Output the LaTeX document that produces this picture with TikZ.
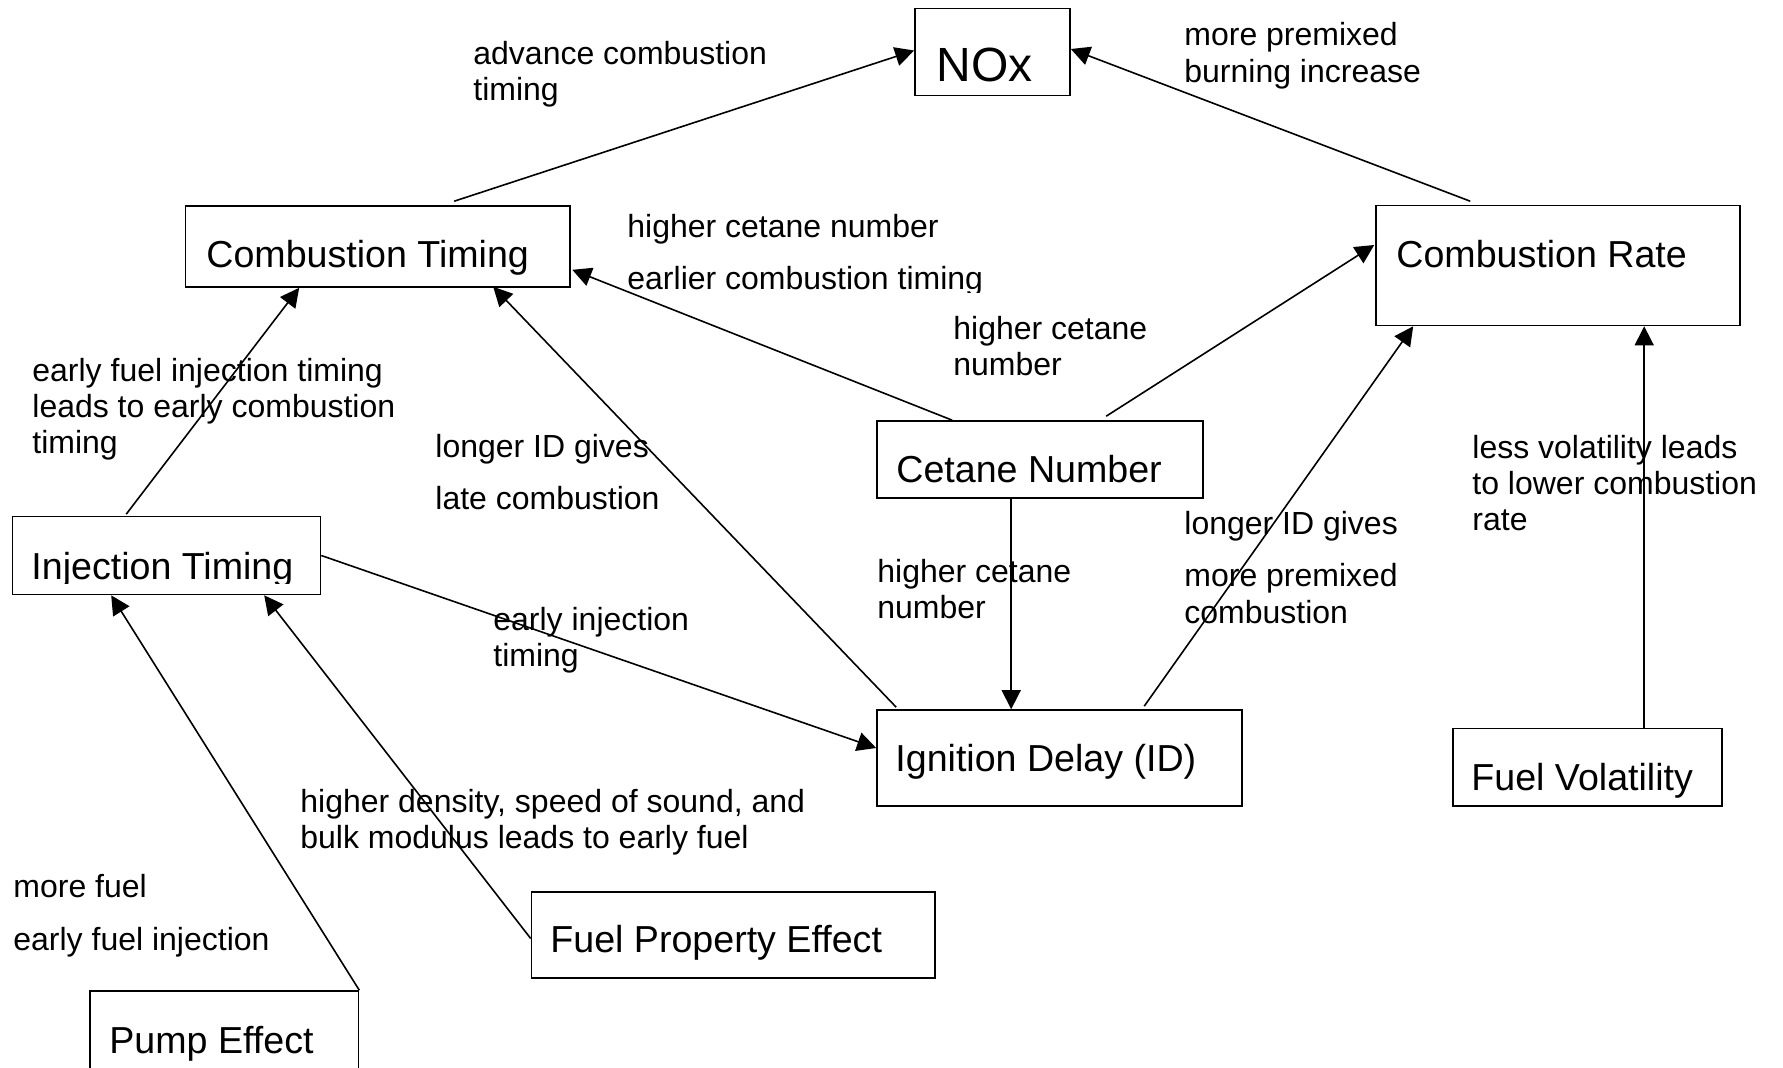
\documentclass[tikz,border=0pt]{standalone}
\usepackage{fontspec}
\setmainfont{Liberation Sans}
\usetikzlibrary{arrows.meta,calc}
\newcommand\mlines[2]{\vtop{\baselineskip=#1\lineskiplimit=-100pt\lineskip=0pt #2}}
\begin{document}
\begin{tikzpicture}[x=0.5pt,y=-0.5pt,
  box/.style 2 args={draw, line width=0.8pt, inner sep=0pt, minimum width=#1*0.5pt, minimum height=#2*0.5pt},
  ntext/.style={anchor=base west, inner sep=0pt, font=\fontsize{18.8}{22}\selectfont},
  lbl/.style={anchor=base west, inner sep=0pt, font=\fontsize{16}{18.25}\selectfont},
  conn/.style={draw, line width=0.8pt, -{Triangle[length=9.5pt,width=9.5pt]}}]
\clip (0,0) rectangle (1783,1067);
\fill[white] (0,0) rectangle (1783,1067);

% boxes
\node[box={155}{87}] (nox) at (992.5,52) {};
\node[box={384.5}{81}] (ct) at (377.75,246.5) {};
\node[box={364}{120}] (cr) at (1558,265.5) {};
\node[box={326}{77}] (cn) at (1040,459.5) {};
\node[box={308}{78}] (it) at (166.5,555.5) {};
\node[box={365}{96}] (id) at (1059.5,758) {};
\node[box={269}{77.5}] (fv) at (1587.5,767.25) {};
\node[box={403.5}{86}] (fpe) at (733.25,935) {};
\node[box={268.5}{99}] (pe) at (224.25,1040.5) {};

% box texts
\node[ntext, font=\fontsize{24}{28}\selectfont] (noxt) at (936,81) {NOx};
\node[ntext] (ctt) at (206,267) {Combustion Timing};
\node[ntext] (crt) at (1396,267) {Combustion Rate};
\node[ntext] (cnt) at (896,482) {Cetane Number};
\begin{scope}
\clip (15,520) rectangle (318,583);
\node[ntext] (itt) at (31,579) {Injection Timing};
\end{scope}
\node[ntext] (idt) at (895,771) {Ignition Delay (ID)};
\node[ntext] (fvt) at (1471,790) {Fuel Volatility};
\node[ntext] (fpet) at (550,952) {Fuel Property Effect};
\node[ntext] (pet) at (109,1053) {Pump Effect};

% labels
\node[lbl] (l1) at (473,64) {\mlines{18.25pt}{\hbox{advance combustion}\hbox{timing}}};
\node[lbl] (l2) at (1184,45.5) {\mlines{18.25pt}{\hbox{more premixed}\hbox{burning increase}}};
\begin{scope}
\clip (600,200) rectangle (1000,292);
\node[lbl] (l3) at (627,237) {\mlines{18.25pt}{\hbox{higher cetane number}\vskip7.75pt\hbox{earlier combustion timing}}};
\end{scope}
\node[lbl] (l4) at (953,339) {\mlines{18.25pt}{\hbox{higher cetane}\hbox{number}}};
\node[lbl] (l5) at (32,381) {\mlines{18.15pt}{\hbox{early fuel injection timing}\hbox{leads to early combustion}\hbox{timing}}};
\node[lbl] (l6) at (435,457) {\mlines{18.25pt}{\hbox{longer ID gives}\vskip8pt\hbox{late combustion}}};
\node[lbl] (l7) at (1472,458) {\mlines{18pt}{\hbox{less volatility leads}\hbox{to lower combustion}\hbox{rate}}};
\node[lbl] (l8) at (1184,534) {\mlines{18.25pt}{\hbox{longer ID gives}\vskip8pt\hbox{more premixed}\hbox{combustion}}};
\node[lbl] (l9) at (877,582) {\mlines{18.25pt}{\hbox{higher cetane}\hbox{number}}};
\node[lbl] (l10) at (493,630) {\mlines{18.25pt}{\hbox{early injection}\hbox{timing}}};
\node[lbl] (l11) at (300,812) {\mlines{18.25pt}{\hbox{higher density, speed of sound, and}\hbox{bulk modulus leads to early fuel}}};
\node[lbl] (l12) at (13,897) {\mlines{18.25pt}{\hbox{more fuel}\vskip8.25pt\hbox{early fuel injection}}};

% connectors
\draw[conn] ($(ct.north west)+(269.5,-4)$) -- ($(nox.west)+(0,-1.5)$);
\draw[conn] ($(cr.north west)+(95,-3.5)$) -- ($(nox.east)+(0,-3)$);
\draw[conn] ($(cn.north west)+(76,0)$) -- ($(ct.south east)+(1.5,-18)$);
\draw[conn] ($(cn.north west)+(230,-4)$) -- ($(cr.west)+(-1,-20.5)$);
\draw[conn] ($(it.north west)+(114.5,-1.5)$) -- ($(ct.south west)+(114.5,0)$);
\draw[conn] ($(id.north west)+(20,-2)$) -- ($(ct.south west)+(308.5,-1)$);
\draw[conn] (it.east) -- ($(id.west)+(0,-10)$);
\draw[conn] ($(cn.south west)+(135,0)$) -- ($(id.north west)+(135,0)$);
\draw[conn] ($(id.north west)+(268,-3)$) -- ($(cr.south west)+(38,0)$);
\draw[conn] ($(fv.north west)+(192,0)$) -- ($(cr.south west)+(269,0)$);
\draw[conn] (pe.north east) -- ($(it.south west)+(99.5,0)$);
\draw[conn] ($(fpe.west)+(0,3.5)$) -- ($(it.south west)+(252.5,0)$);
\end{tikzpicture}
\end{document}
